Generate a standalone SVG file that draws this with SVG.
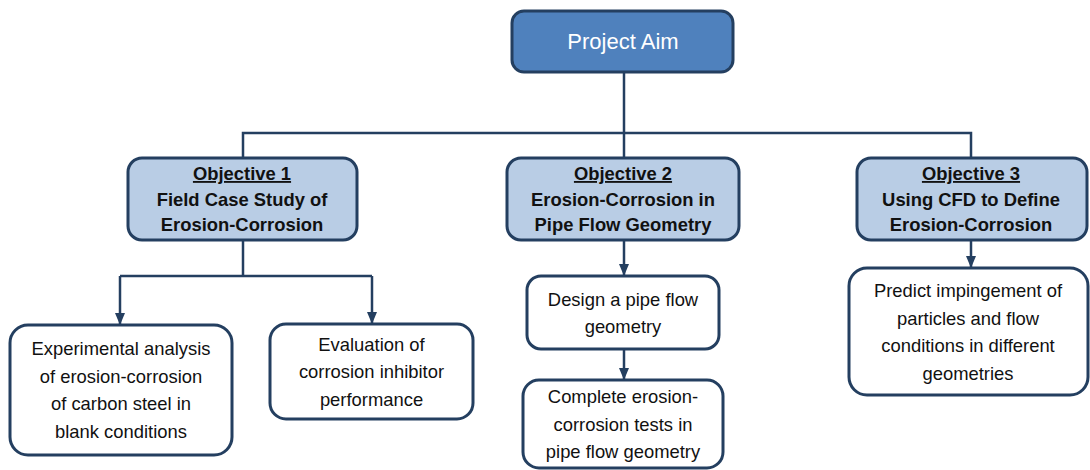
<svg xmlns="http://www.w3.org/2000/svg" width="1090" height="470" viewBox="0 0 1090 470">
  <style>
    .aim { fill: #4F81BD; stroke: #243F60; stroke-width: 3; }
    .obj { fill: #B9CDE5; stroke: #243F60; stroke-width: 3; }
    .task { fill: #FFFFFF; stroke: #243F60; stroke-width: 3; }
    .conn { fill: none; stroke: #243F60; stroke-width: 2.5; }
    text { font-family: "Liberation Sans", Arial, sans-serif; text-anchor: middle; }
    .aimt { font-size: 22px; fill: #FFFFFF; }
    .objt { font-size: 18.4px; font-weight: bold; fill: #111111; }
    .u { text-decoration: underline; }
    .taskt { font-size: 18.4px; fill: #111111; }
  </style>
  <defs>
    <marker id="arrow" markerUnits="userSpaceOnUse" markerWidth="12" markerHeight="10" refX="11" refY="5" orient="auto">
      <path d="M0,0 L12,5 L0,10 z" fill="#243F60"/>
    </marker>
  </defs>
  <rect width="1090" height="470" fill="#FFFFFF"/>

  <g id="connectors">
    <path class="conn" d="M624,72 V133"/>
    <path class="conn" d="M243,158 V133 H971 V158"/>
    <path class="conn" d="M624,133 V158"/>
    <path class="conn" d="M243,240 V276"/>
    <path class="conn" d="M120,276 H372"/>
    <path class="conn" d="M120,276 V324" marker-end="url(#arrow)"/>
    <path class="conn" d="M372,276 V323" marker-end="url(#arrow)"/>
    <path class="conn" d="M624,240 V275" marker-end="url(#arrow)"/>
    <path class="conn" d="M624,349 V379" marker-end="url(#arrow)"/>
    <path class="conn" d="M971,240 V267" marker-end="url(#arrow)"/>
  </g>

  <g id="project-aim">
    <rect class="aim" x="512" y="11" width="221" height="61" rx="12"/>
    <text class="aimt" x="623" y="49">Project Aim</text>
  </g>

  <g id="objective-1">
    <rect class="obj" x="128" y="158" width="229" height="82" rx="14"/>
    <text class="objt" x="242" y="180"><tspan class="u">Objective 1</tspan></text>
    <text class="objt" x="242" y="205.5">Field Case Study of</text>
    <text class="objt" x="242" y="230.5">Erosion-Corrosion</text>
  </g>

  <g id="objective-2">
    <rect class="obj" x="507" y="158" width="232" height="82" rx="14"/>
    <text class="objt" x="623" y="180"><tspan class="u">Objective 2</tspan></text>
    <text class="objt" x="623" y="205.5">Erosion-Corrosion in</text>
    <text class="objt" x="623" y="230.5">Pipe Flow Geometry</text>
  </g>

  <g id="objective-3">
    <rect class="obj" x="857" y="158" width="230" height="82" rx="14"/>
    <text class="objt" x="971" y="180"><tspan class="u">Objective 3</tspan></text>
    <text class="objt" x="971" y="205.5">Using CFD to Define</text>
    <text class="objt" x="971" y="230.5">Erosion-Corrosion</text>
  </g>

  <g id="experimental-analysis">
    <rect class="task" x="10" y="325" width="222" height="130" rx="18"/>
    <text class="taskt" x="121" y="355">Experimental analysis</text>
    <text class="taskt" x="121" y="382.5">of erosion-corrosion</text>
    <text class="taskt" x="121" y="410">of carbon steel in</text>
    <text class="taskt" x="121" y="437.5">blank conditions</text>
  </g>

  <g id="evaluation">
    <rect class="task" x="270" y="324" width="203" height="95" rx="16"/>
    <text class="taskt" x="371.5" y="350.5">Evaluation of</text>
    <text class="taskt" x="371.5" y="378">corrosion inhibitor</text>
    <text class="taskt" x="371.5" y="405.5">performance</text>
  </g>

  <g id="design-geometry">
    <rect class="task" x="527" y="276" width="192" height="73" rx="14"/>
    <text class="taskt" x="623" y="305.5">Design a pipe flow</text>
    <text class="taskt" x="623" y="333">geometry</text>
  </g>

  <g id="complete-tests">
    <rect class="task" x="523" y="380" width="200" height="88" rx="16"/>
    <text class="taskt" x="623" y="403">Complete erosion-</text>
    <text class="taskt" x="623" y="430.5">corrosion tests in</text>
    <text class="taskt" x="623" y="458">pipe flow geometry</text>
  </g>

  <g id="predict-impingement">
    <rect class="task" x="849" y="268" width="239" height="127" rx="18"/>
    <text class="taskt" x="968" y="297">Predict impingement of</text>
    <text class="taskt" x="968" y="324.5">particles and flow</text>
    <text class="taskt" x="968" y="352">conditions in different</text>
    <text class="taskt" x="968" y="379.5">geometries</text>
  </g>
</svg>
